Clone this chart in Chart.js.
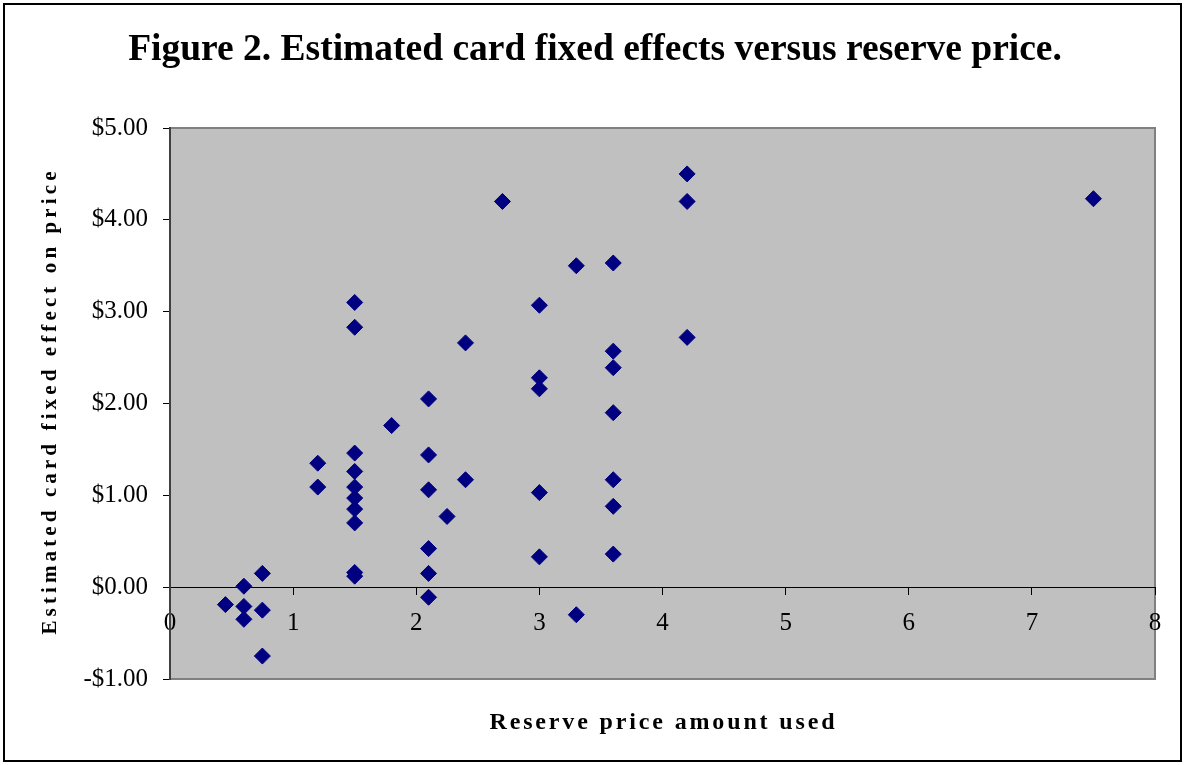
<!DOCTYPE html>
<html>
<head>
<meta charset="utf-8">
<title>Figure 2</title>
<script src="https://cdn.jsdelivr.net/npm/chart.js@4/dist/chart.umd.min.js"></script>
<style>
  body { margin: 0; background: #fff; }
  canvas { display: block; }
</style>
</head>
<body>
<canvas id="myChart" width="1185" height="765"></canvas>
<script>
// reserve price used (x) and estimated card fixed effect (y)
const reservePrice = [
  0.45, 0.6, 0.6, 0.6, 0.75, 0.75, 0.75,
  1.2, 1.2,
  1.5, 1.5, 1.5, 1.5, 1.5, 1.5, 1.5, 1.5, 1.5, 1.5,
  1.8,
  2.1, 2.1, 2.1, 2.1, 2.1, 2.1,
  2.25, 2.4, 2.4, 2.7,
  3.0, 3.0, 3.0, 3.0, 3.0,
  3.3, 3.3,
  3.6, 3.6, 3.6, 3.6, 3.6, 3.6, 3.6,
  4.2, 4.2, 4.2,
  7.5,
];
const fixedEffect = [
  -0.19, 0.01, -0.21, -0.35, 0.15, -0.25, -0.75,
  1.35, 1.09,
  3.1, 2.83, 1.46, 1.26, 1.09, 0.97, 0.85, 0.7, 0.16, 0.12,
  1.76,
  2.05, 1.44, 1.06, 0.42, 0.15, -0.11,
  0.77, 2.66, 1.17, 4.2,
  3.07, 2.28, 2.16, 1.03, 0.33,
  3.5, -0.3,
  3.53, 2.57, 2.39, 1.9, 1.17, 0.88, 0.36,
  4.5, 4.2, 2.72,
  4.23,
];
const xTicks = [0, 1, 2, 3, 4, 5, 6, 7, 8];
const yTicks = [-1, 0, 1, 2, 3, 4, 5];

const chartTitle = "Figure 2. Estimated card fixed effects versus reserve price.";
const xTitle = "Reserve price amount used";
const yTitle = "Estimated card fixed effect on price";

const serif = "'Liberation Serif', 'Times New Roman', serif";

const points = reservePrice.map((x, i) => ({ x: x, y: fixedEffect[i] }));

function money(v) {
  return (v < 0 ? "-$" : "$") + Math.abs(v).toFixed(2);
}

// draws text stretched to a given width using letter spacing
function spacedText(ctx, text, x, y, width) {
  ctx.letterSpacing = "0px";
  const w0 = ctx.measureText(text).width;
  const gap = Math.max(0, (width - w0) / (text.length - 1));
  ctx.letterSpacing = gap + "px";
  ctx.textAlign = "left";
  ctx.fillText(text, x - width / 2, y);
  ctx.letterSpacing = "0px";
}

const frame = {
  id: "frame",
  beforeDraw(chart) {
    const { ctx, chartArea: a } = chart;
    ctx.save();
    ctx.fillStyle = "#fff";
    ctx.fillRect(0, 0, chart.width, chart.height);
    ctx.fillStyle = "#c0c0c0";
    ctx.fillRect(a.left, a.top, a.right - a.left, a.bottom - a.top);
    ctx.strokeStyle = "#808080";
    ctx.lineWidth = 2;
    ctx.strokeRect(a.left, a.top, a.right - a.left, a.bottom - a.top);
    ctx.restore();
  },
  afterDraw(chart) {
    const ctx = chart.ctx;
    ctx.save();
    ctx.strokeStyle = "#000";
    ctx.lineWidth = 2;
    ctx.strokeRect(4, 4, chart.width - 8, chart.height - 8);

    ctx.fillStyle = "#000";
    ctx.textBaseline = "alphabetic";
    ctx.textAlign = "center";
    ctx.font = "bold 37.5px " + serif;
    ctx.fillText(chartTitle, 595, 60);

    ctx.font = "bold 24px " + serif;
    spacedText(ctx, xTitle, 662, 729, 345);

    ctx.translate(56, 403);
    ctx.rotate(-Math.PI / 2);
    ctx.font = "bold 21px " + serif;
    spacedText(ctx, yTitle, 0, 0, 463);
    ctx.restore();
  },
};

const ctx = document.getElementById("myChart").getContext("2d");

const myChart = new Chart(ctx, {
  type: "scatter",
  data: {
    datasets: [
      {
        label: "Card fixed effect",
        data: points,
        backgroundColor: "#000080",
        borderColor: "#000080",
        borderWidth: 1,
        pointStyle: "rectRot",
        pointRadius: 8,
        pointHoverRadius: 8,
      },
    ],
  },
  options: {
    responsive: false,
    animation: false,
    layout: {
      padding: { top: 128, right: 30, bottom: 86, left: 0 },
    },
    plugins: {
      legend: false,
      tooltip: { enabled: false },
    },
    scales: {
      x: {
        type: "linear",
        position: { y: 0 },
        min: 0,
        max: 8,
        afterFit: (scale) => {
          scale.height = 0;
        },
        afterBuildTicks: (scale) => {
          scale.ticks = xTicks.map((v) => ({ value: v }));
        },
        ticks: {
          color: "#000",
          font: { family: serif, size: 25 },
          padding: 14,
          maxRotation: 0,
        },
        grid: {
          drawOnChartArea: false,
          color: "#000",
          tickLength: 7,
        },
        border: { color: "#000", width: 1 },
      },
      y: {
        type: "linear",
        position: "left",
        min: -1,
        max: 5,
        afterFit: (scale) => {
          scale.width = 170;
        },
        afterBuildTicks: (scale) => {
          scale.ticks = yTicks.map((v) => ({ value: v }));
        },
        ticks: {
          color: "#000",
          font: { family: serif, size: 25 },
          padding: 15,
          callback: (v) => money(v),
        },
        grid: {
          drawOnChartArea: false,
          color: "#000",
          tickLength: 7,
        },
        border: { color: "#404040", width: 2 },
      },
    },
  },
  plugins: [frame],
});
</script>
</body>
</html>
